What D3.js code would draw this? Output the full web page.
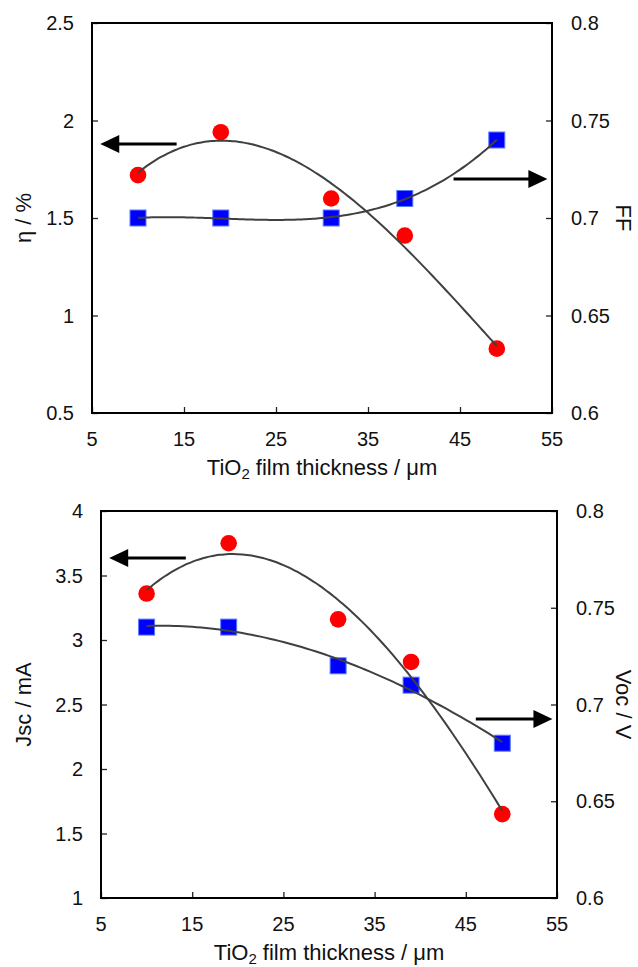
<!DOCTYPE html>
<head>
  <meta charset="utf-8">
  <style>
    body { margin: 0; background: #fff; }
    text { font-family: 'Liberation Sans', Arial, sans-serif; fill: #111; }
    .tick-label { font-size: 20px; }
    .axis-title { font-size: 22px; }
  </style>
</head>

<body>
  <script src="https://cdn.jsdelivr.net/npm/d3@7"></script>
  <script>
    const width = 638;
    const height = 967;

    // film thickness (um), same for both panels
    const thickness = [10, 19, 31, 39, 49];
    const xTicks = [5, 15, 25, 35, 45, 55];

    // top panel
    const eta = [1.72, 1.94, 1.60, 1.41, 0.83];   // efficiency, %
    const ff = [0.70, 0.70, 0.70, 0.71, 0.74];    // fill factor
    const etaTicks = [0.5, 1, 1.5, 2, 2.5];
    const ffTicks = [0.6, 0.65, 0.7, 0.75, 0.8];

    // bottom panel
    const jsc = [3.36, 3.75, 3.16, 2.83, 1.65];   // mA
    const voc = [0.74, 0.74, 0.72, 0.71, 0.68];   // V
    const jscTicks = [1, 1.5, 2, 2.5, 3, 3.5, 4];
    const vocTicks = [0.6, 0.65, 0.7, 0.75, 0.8];

    const svg = d3.select("body").append("svg")
      .attr("width", width)
      .attr("height", height);

    // least squares polynomial (trendline), x centred for stability
    function polyfit(xs, ys, order) {
      const xm = d3.mean(xs);
      const n = order + 1;
      const A = [];
      for (let i = 0; i < n; ++i) {
        A.push([]);
        for (let j = 0; j < n; ++j)
          A[i].push(d3.sum(xs, x => Math.pow(x - xm, i + j)));
        A[i].push(d3.sum(xs, (x, k) => ys[k] * Math.pow(x - xm, i)));
      }
      for (let c = 0; c < n; ++c) {
        let p = c;
        for (let r = c + 1; r < n; ++r) if (Math.abs(A[r][c]) > Math.abs(A[p][c])) p = r;
        [A[c], A[p]] = [A[p], A[c]];
        for (let r = 0; r < n; ++r) {
          if (r == c) continue;
          const f = A[r][c] / A[c][c];
          for (let k = c; k <= n; ++k) A[r][k] -= f * A[c][k];
        }
      }
      const coef = A.map((row, i) => row[n] / row[i]);
      return x => d3.sum(coef, (a, i) => a * Math.pow(x - xm, i));
    }

    function drawPanel(p) {
      const g = svg.append("g");
      const x = d3.scaleLinear().domain([5, 55]).range([p.left, p.right]);
      const yL = d3.scaleLinear().domain(d3.extent(p.leftTicks)).range([p.bottom, p.top]);
      const yR = d3.scaleLinear().domain(d3.extent(p.rightTicks)).range([p.bottom, p.top]);

      // axes (ticks inside)
      g.append("g").attr("transform", "translate(0," + p.bottom + ")")
        .call(d3.axisTop(x).tickValues(xTicks).tickSize(6).tickFormat(""));
      g.append("g").attr("transform", "translate(" + p.left + ",0)")
        .call(d3.axisRight(yL).tickValues(p.leftTicks).tickSize(6).tickFormat(""));
      g.append("g").attr("transform", "translate(" + p.right + ",0)")
        .call(d3.axisLeft(yR).tickValues(p.rightTicks).tickSize(6).tickFormat(""));
      g.selectAll(".domain").remove();
      g.selectAll(".tick line").attr("stroke", "#222").attr("stroke-width", 1.3);

      // frame
      g.append("rect")
        .attr("x", p.left).attr("y", p.top)
        .attr("width", p.right - p.left).attr("height", p.bottom - p.top)
        .attr("fill", "none").attr("stroke", "#000").attr("stroke-width", 2);

      // tick labels
      g.selectAll(".xl").data(xTicks).enter().append("text")
        .attr("class", "tick-label")
        .attr("x", d => x(d)).attr("y", p.bottom + 33)
        .attr("text-anchor", "middle").text(d => d);
      g.selectAll(".yl").data(p.leftTicks).enter().append("text")
        .attr("class", "tick-label")
        .attr("x", p.left - 18).attr("y", d => yL(d)).attr("dy", "0.35em")
        .attr("text-anchor", "end").text(d => d);
      g.selectAll(".yr").data(p.rightTicks).enter().append("text")
        .attr("class", "tick-label")
        .attr("x", p.right + 19).attr("y", d => yR(d)).attr("dy", "0.35em")
        .attr("text-anchor", "start").text(d => d);

      // axis titles
      const xt = g.append("text").attr("class", "axis-title")
        .attr("x", (p.left + p.right) / 2).attr("y", p.bottom + 62)
        .attr("text-anchor", "middle");
      xt.append("tspan").text("TiO");
      xt.append("tspan").attr("font-size", "15px").attr("dy", "4").text("2");
      xt.append("tspan").attr("dy", "-4").text(" film thickness / μm");

      const midY = (p.top + p.bottom) / 2;
      g.append("text").attr("class", "axis-title")
        .attr("transform", "translate(31," + midY + ") rotate(-90)")
        .attr("text-anchor", "middle").text(p.leftTitle);
      g.append("text").attr("class", "axis-title")
        .attr("transform", "translate(616," + midY + ") rotate(90)")
        .attr("text-anchor", "middle").text(p.rightTitle);

      // markers
      g.selectAll(".sq").data(thickness).enter().append("rect")
        .attr("x", (d, i) => x(d) - 8).attr("y", (d, i) => yR(p.rightVals[i]) - 8)
        .attr("width", 16).attr("height", 16)
        .attr("fill", "#0000ff").attr("stroke", "#5a7cff").attr("stroke-width", 1);
      g.selectAll(".ci").data(thickness).enter().append("circle")
        .attr("cx", d => x(d)).attr("cy", (d, i) => yL(p.leftVals[i]))
        .attr("r", 8.3).attr("fill", "#ff0000");

      // trendlines
      const xs = d3.range(10, 49.01, 0.5);
      const fL = polyfit(thickness, p.leftVals, p.orderL);
      const fR = polyfit(thickness, p.rightVals, p.orderR);
      const line = d3.line().curve(d3.curveCatmullRom);
      g.append("path")
        .attr("d", line(xs.map(v => [x(v), yL(fL(v))])))
        .attr("fill", "none").attr("stroke", "#404040").attr("stroke-width", 2);
      g.append("path")
        .attr("d", line(xs.map(v => [x(v), yR(fR(v))])))
        .attr("fill", "none").attr("stroke", "#404040").attr("stroke-width", 2);

      // arrows pointing at the matching axis
      function arrow(x1, x2, yy) {
        const dir = Math.sign(x2 - x1);
        g.append("line")
          .attr("x1", x1).attr("x2", x2 - dir * 16).attr("y1", yy).attr("y2", yy)
          .attr("stroke", "#000").attr("stroke-width", 3);
        g.append("path")
          .attr("d", "M" + x2 + "," + yy + "L" + (x2 - dir * 19) + "," + (yy - 9) +
            "L" + (x2 - dir * 19) + "," + (yy + 9) + "Z")
          .attr("fill", "#000");
      }
      arrow(x(p.arrowL[0]), x(p.arrowL[1]), yL(p.arrowL[2]));
      arrow(x(p.arrowR[0]), x(p.arrowR[1]), yR(p.arrowR[2]));
    }

    drawPanel({
      left: 92, right: 552, top: 23, bottom: 413,
      leftTicks: etaTicks, rightTicks: ffTicks,
      leftVals: eta, rightVals: ff,
      leftTitle: "η  / %", rightTitle: "FF",
      orderL: 3, orderR: 3,
      arrowL: [14.2, 5.9, 1.88], arrowR: [44.3, 54.5, 0.72]
    });

    drawPanel({
      left: 101, right: 557, top: 511, bottom: 898,
      leftTicks: jscTicks, rightTicks: vocTicks,
      leftVals: jsc, rightVals: voc,
      leftTitle: "Jsc / mA", rightTitle: "Voc / V",
      orderL: 3, orderR: 3,
      arrowL: [14.3, 5.9, 3.635], arrowR: [46.1, 54.5, 0.6925]
    });
  </script>
</body>
